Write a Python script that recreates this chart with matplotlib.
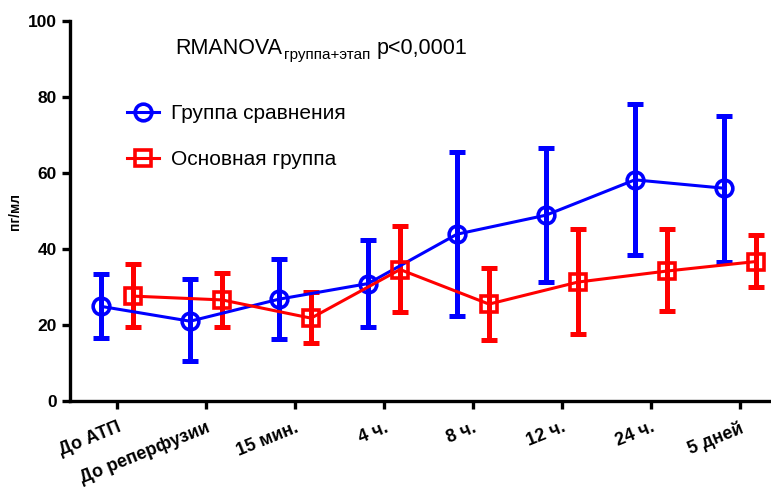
import matplotlib
matplotlib.use("Agg")
import matplotlib.pyplot as plt
import numpy as np
from matplotlib.lines import Line2D

plt.rcParams['font.family'] = ['Liberation Sans', 'DejaVu Sans']

# ---------------------------------------------------------------------------
# Data
# ---------------------------------------------------------------------------
stages = ["До АТП", "До реперфузии", "15 мин.", "4 ч.", "8 ч.", "12 ч.", "24 ч.", "5 дней"]

cmp_mean = [24.9, 21.0, 26.8, 30.9, 43.9, 48.9, 58.2, 56.0]
cmp_upper = [33.4, 32.0, 37.4, 42.5, 65.4, 66.6, 78.2, 74.9]
cmp_lower = [16.6, 10.5, 16.3, 19.5, 22.5, 31.2, 38.4, 36.7]

main_mean = [27.6, 26.6, 21.8, 34.6, 25.5, 31.3, 34.2, 36.7]
main_upper = [36.0, 33.8, 28.8, 46.0, 35.1, 45.3, 45.3, 43.8]
main_lower = [19.5, 19.5, 15.2, 23.3, 16.1, 17.7, 23.6, 30.0]

label_cmp = "Группа сравнения"
label_main = "Основная группа"
y_label = "пг/мл"

# ---------------------------------------------------------------------------
# Figure
# ---------------------------------------------------------------------------
fig = plt.figure(figsize=(7.71, 5.0), dpi=100)
ax = fig.add_axes([70 / 771, 99 / 500, 701 / 771, 380 / 500])

x = np.arange(len(stages))
off = 0.18

def draw(xs, mean, lower, upper, color, marker):
    mean = np.asarray(mean)
    yerr = [mean - np.asarray(lower), np.asarray(upper) - mean]
    ax.errorbar(xs, mean, yerr=yerr, fmt="none", ecolor=color,
                elinewidth=3.6, capsize=5.5, capthick=3.6, zorder=2)
    ax.plot(xs, mean, color=color, lw=2.2, marker=marker, ms=12,
            mfc="none", mec=color, mew=2.6, zorder=3, clip_on=False)

draw(x - off, cmp_mean, cmp_lower, cmp_upper, "#0000ff", "o")
draw(x + off, main_mean, main_lower, main_upper, "#ff0000", "s")

ax.set_xlim(-0.53, 7.35)
ax.set_ylim(0, 100)
ax.set_yticks(range(0, 101, 20))
ax.set_xticks(x)
ax.set_xticklabels(stages, rotation=22, ha="right", va="top",
                   rotation_mode="anchor", fontsize=13, fontweight="bold")
for lab in ax.get_yticklabels():
    lab.set_fontweight("bold")
    lab.set_fontsize(12.5)

for side in ("top", "right"):
    ax.spines[side].set_visible(False)
for side in ("left", "bottom"):
    ax.spines[side].set_linewidth(2.4)
ax.tick_params(axis="both", width=2.4, length=6, direction="out")
ax.tick_params(axis="x", pad=7)

ax.set_ylabel(y_label, fontsize=10, fontweight="bold", labelpad=4)

# title with subscript
t1 = ax.text(0.150, 0.912, "RMANOVA", transform=ax.transAxes,
             fontsize=15.5, va="baseline", ha="left")
t2 = ax.annotate("группа+этап", xy=(1, 0), xycoords=t1,
                 xytext=(1, -2), textcoords="offset points",
                 fontsize=11, va="bottom", ha="left")
ax.annotate("p<0,0001", xy=(1, 0), xycoords=t2,
            xytext=(5, 2), textcoords="offset points",
            fontsize=15.5, va="bottom", ha="left")

handles = [
    Line2D([], [], color="#0000ff", lw=2.2, marker="o", ms=12, mfc="none", mew=2.6),
    Line2D([], [], color="#ff0000", lw=2.2, marker="s", ms=12, mfc="none", mew=2.6),
]
ax.legend(handles, [label_cmp, label_main], loc="upper left",
          bbox_to_anchor=(0.055, 0.83), frameon=False, fontsize=15,
          handlelength=1.5, labelspacing=1.3, handletextpad=0.6)

plt.savefig("out.png", dpi=100)
plt.close()
